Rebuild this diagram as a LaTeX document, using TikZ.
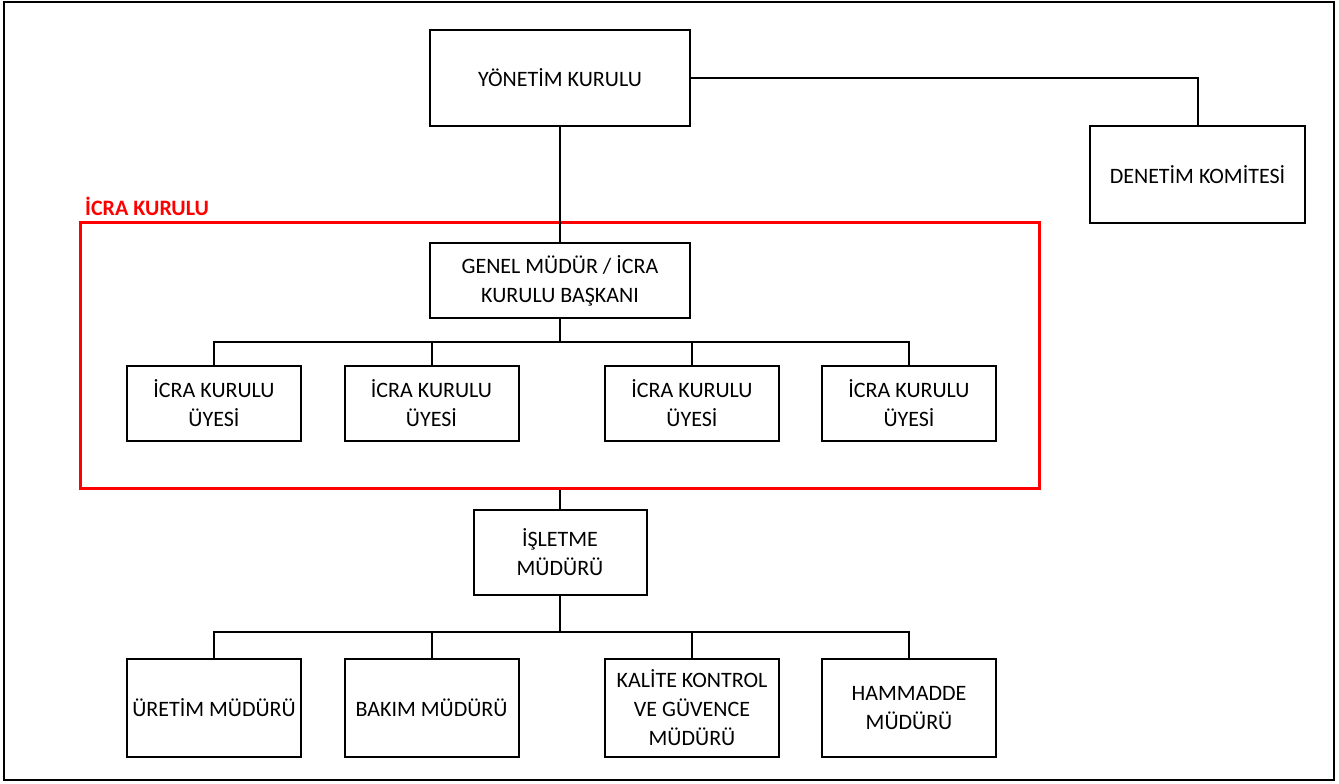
\documentclass[tikz,border=0pt]{standalone}
\usepackage{fontspec}
\setmainfont{Carlito}
\begin{document}
\begin{tikzpicture}[x=1pt,y=-1pt,
  box/.style={draw=black, line width=2pt, inner sep=0pt, align=center,
    font=\fontsize{22}{29}\selectfont, minimum width=#1},
  box/.default=174,
  conn/.style={draw=black, line width=2pt},
  frame/.style={draw=red, line width=3pt, inner sep=0pt}]
\useasboundingbox (0,0) rectangle (1339,784);
\draw[line width=2.5pt] (4,2) rectangle (1334,780);
% red frame
\node[frame, minimum width=959, minimum height=266] (icra) at (560,355) {};
\node[anchor=base west, text=red, inner sep=0pt, font=\fontsize{22}{29}\selectfont\bfseries] (lbl) at (85,215) {İCRA KURULU};
% boxes
\node[box=260, minimum height=96] (yk) at (560,78) {YÖNETİM KURULU};
\node[box=215, minimum height=97] (dk) at (1197.5,174.5) {DENETİM KOMİTESİ};
\node[box=260, minimum height=75] (gm) at (560,280.5) {GENEL MÜDÜR / İCRA\\KURULU BAŞKANI};
\node[box, minimum height=75] (u1) at (214,403.5) {İCRA KURULU\\ÜYESİ};
\node[box, minimum height=75] (u2) at (431.5,403.5) {İCRA KURULU\\ÜYESİ};
\node[box, minimum height=75] (u3) at (692,403.5) {İCRA KURULU\\ÜYESİ};
\node[box, minimum height=75] (u4) at (909,403.5) {İCRA KURULU\\ÜYESİ};
\node[box=173, minimum height=85] (im) at (560,552.5) {İŞLETME\\MÜDÜRÜ};
\node[box, minimum height=98] (b1) at (214,708) {ÜRETİM MÜDÜRÜ};
\node[box, minimum height=98] (b2) at (431.5,708) {BAKIM MÜDÜRÜ};
\node[box, minimum height=98] (b3) at (692,708) {KALİTE KONTROL\\VE GÜVENCE\\MÜDÜRÜ};
\node[box, minimum height=98] (b4) at (909,708) {HAMMADDE\\MÜDÜRÜ};
% connectors
\coordinate (busA) at (560,342);
\coordinate (busB) at (560,632);
\draw[conn] (yk) -- (gm);
\draw[conn] (yk.east) -| (dk.north);
\draw[conn] (gm) -- (busA);
\draw[conn] (u1.north) |- (busA) -| (u4.north);
\draw[conn] (u2.north) -- (u2.north |- busA);
\draw[conn] (u3.north) -- (u3.north |- busA);
\draw[conn] (icra.south) -- (im.north);
\draw[conn] (im) -- (busB);
\draw[conn] (b1.north) |- (busB) -| (b4.north);
\draw[conn] (b2.north) -- (b2.north |- busB);
\draw[conn] (b3.north) -- (b3.north |- busB);
\end{tikzpicture}
\end{document}
